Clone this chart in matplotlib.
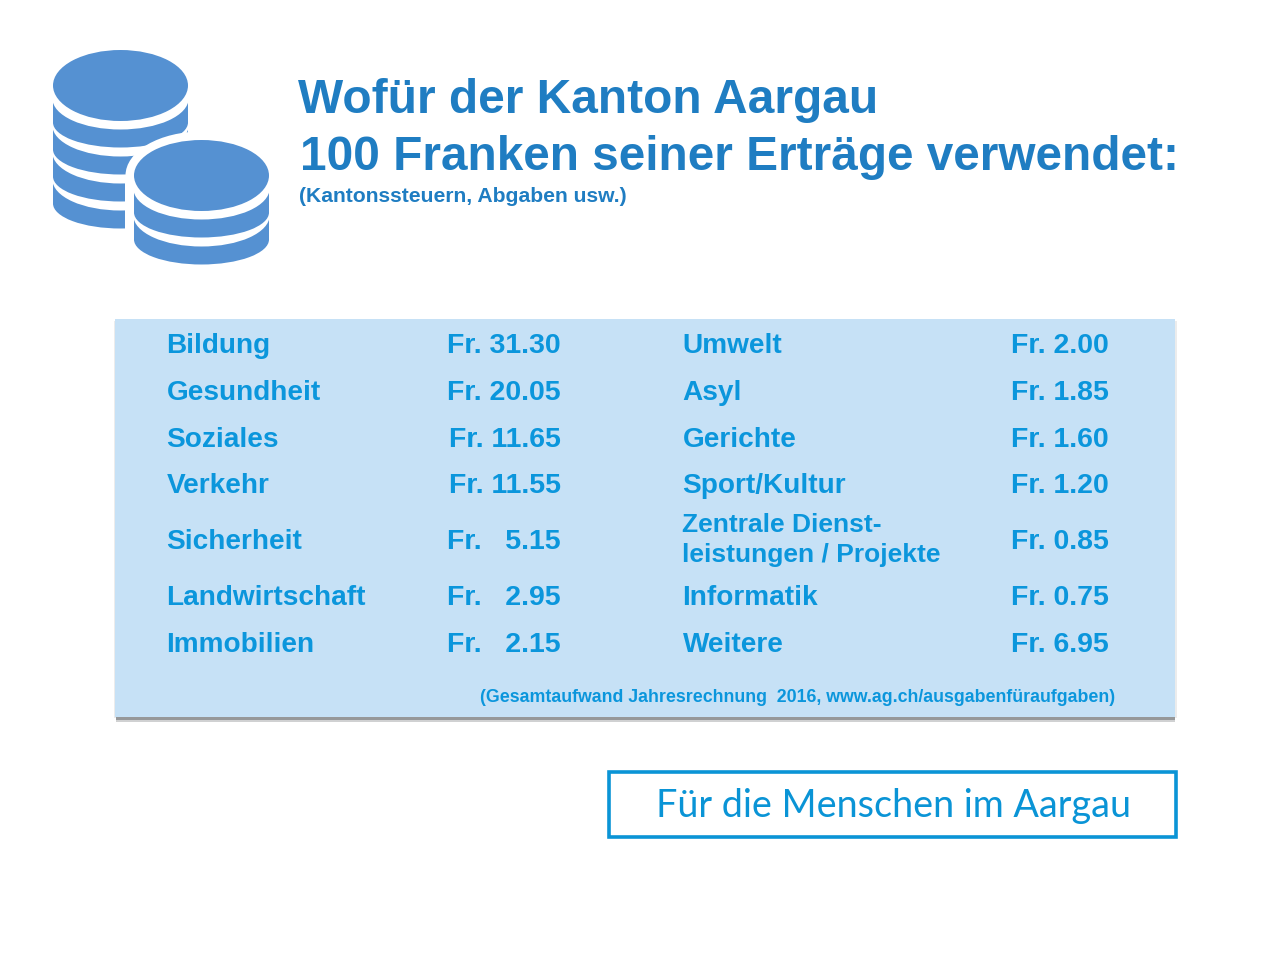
import matplotlib
matplotlib.use("Agg")
import matplotlib.pyplot as plt
from matplotlib.patches import Ellipse, Rectangle

left_items = ["Bildung", "Gesundheit", "Soziales", "Verkehr", "Sicherheit", "Landwirtschaft", "Immobilien"]
left_values = [31.30, 20.05, 11.65, 11.55, 5.15, 2.95, 2.15]
right_items = ["Umwelt", "Asyl", "Gerichte", "Sport/Kultur", "Zentrale Dienst-\nleistungen / Projekte", "Informatik", "Weitere"]
right_values = [2.00, 1.85, 1.60, 1.20, 0.85, 0.75, 6.95]
title_lines = ["Wofür der Kanton Aargau", "100 Franken seiner Erträge verwendet:"]
subtitle = "(Kantonssteuern, Abgaben usw.)"
source = "(Gesamtaufwand Jahresrechnung  2016, www.ag.ch/ausgabenfüraufgaben)"
stamp = "Für die Menschen im Aargau"

row_y = [346.3, 393.3, 439.6, 486.3, 542.3, 598.3, 645.3]
TXT = "#0b96dc"
TITLE = "#1f7dc2"
COIN = "#5591d2"
PANEL = "#c6e1f6"
STAMP = "#0a94d6"
FONT = "Liberation Sans"

fig = plt.figure(figsize=(12.8, 9.6), dpi=100, facecolor="white")
ax = fig.add_axes([0, 0, 1, 1])
ax.set_xlim(0, 1280)
ax.set_ylim(960, 0)
ax.axis("off")


def ell(cx, cy, rx, ry, c, z):
    ax.add_patch(Ellipse((cx, cy), 2 * rx, 2 * ry, fc=c, ec="none", zorder=z))


def rect(x0, y0, x1, y1, c, z, alpha=None):
    ax.add_patch(Rectangle((x0, y0), x1 - x0, y1 - y0, fc=c, ec="none", zorder=z, alpha=alpha))


def coin_stack(cx, top_cy, n, z):
    rx, ry, step = 67.5, 35.5, 27
    base = top_cy + ry + 26.5
    for k in range(n, 0, -1):
        bottom = base + step * (k - 1)
        mid = bottom - 25
        ell(cx, mid, rx, 25, COIN, z)
        rect(cx - rx, bottom - 49, cx + rx, mid, COIN, z)
        ell(cx, bottom - 18 - 31, rx + 0.6, 31, "white", z)
        z += 1
    ell(cx, top_cy, rx, ry, COIN, z)
    return z


# coin icon
z = coin_stack(120.5, 85.5, 4, 2)
ell(201.5, 175.5, 76, 44, "white", z + 1)
rect(125, 175, 280, 270, "white", z + 1)
coin_stack(201.5, 175.5, 2, z + 2)

# headings
bold = dict(family=FONT, weight="bold", va="center", ha="left")
ax.text(298, 100.5, title_lines[0], fontsize=34.5, color=TITLE, **bold)
ax.text(300, 158, title_lines[1], fontsize=34.4, color=TITLE, **bold)
ax.text(299, 196.5, subtitle, fontsize=15.2, color=TITLE, **bold)

# panel with soft shadow
rect(113.5, 321, 1176.8, 718, "#ececec", 1)
rect(116, 716, 1174.5, 722, "#d0d1d2", 1)
rect(116, 716, 1174.5, 720, "#96989a", 1)
rect(115, 319, 1175, 716.5, PANEL, 2)


def money(v):
    return f"Fr. {v:.2f}" if v >= 10 else f"Fr.   {v:.2f}"


for y, a, v, b, w in zip(row_y, left_items, left_values, right_items, right_values):
    two_lines = "\n" in b
    ax.text(166.5, y, a, fontsize=20.2, color=TXT, zorder=3, **bold)
    ax.text(561, y, money(v), fontsize=20.5, color=TXT, zorder=3, family=FONT, weight="bold", va="center", ha="right")
    ax.text(682.5, y - (2.5 if two_lines else 0), b, fontsize=19 if two_lines else 20.2, color=TXT, zorder=3,
            linespacing=1.29, **bold)
    ax.text(1109, y, f"Fr. {w:.2f}", fontsize=20.5, color=TXT, zorder=3, family=FONT, weight="bold", va="center", ha="right")

ax.text(1115, 698, source, fontsize=12.8, color=TXT, zorder=3, family=FONT, weight="bold", va="center", ha="right")

# stamp
ax.add_patch(Rectangle((609, 771.5), 566.5, 65, fc="none", ec=STAMP, lw=2.6, zorder=3))
ax.text(893.5, 806, stamp, family="Lato", fontsize=27.2, color=STAMP, va="center", ha="center", zorder=3)

fig.savefig("out.png", dpi=100)
